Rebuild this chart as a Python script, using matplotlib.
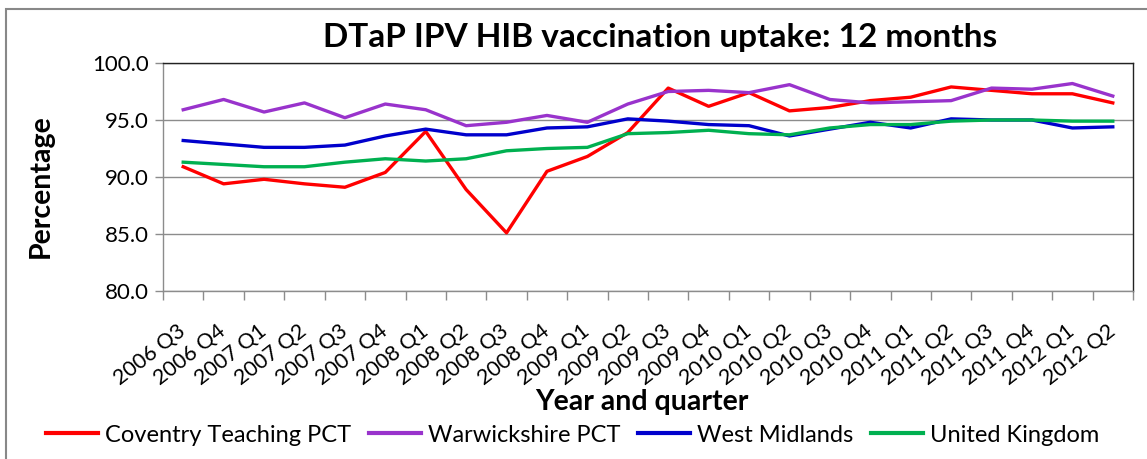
import matplotlib
matplotlib.use("Agg")
import matplotlib.pyplot as plt
import numpy as np
from matplotlib.patches import Rectangle

categories = ["2006 Q3", "2006 Q4", "2007 Q1", "2007 Q2", "2007 Q3", "2007 Q4",
              "2008 Q1", "2008 Q2", "2008 Q3", "2008 Q4", "2009 Q1", "2009 Q2",
              "2009 Q3", "2009 Q4", "2010 Q1", "2010 Q2", "2010 Q3", "2010 Q4",
              "2011 Q1", "2011 Q2", "2011 Q3", "2011 Q4", "2012 Q1", "2012 Q2"]

coventry = [90.9, 89.4, 89.8, 89.4, 89.1, 90.4, 94.0, 88.9, 85.1, 90.5, 91.8, 93.9,
            97.8, 96.2, 97.4, 95.8, 96.1, 96.7, 97.0, 97.9, 97.6, 97.3, 97.3, 96.5]
warwickshire = [95.9, 96.8, 95.7, 96.5, 95.2, 96.4, 95.9, 94.5, 94.8, 95.4, 94.8, 96.4,
                97.5, 97.6, 97.4, 98.1, 96.8, 96.5, 96.6, 96.7, 97.8, 97.7, 98.2, 97.1]
west_midlands = [93.2, 92.9, 92.6, 92.6, 92.8, 93.6, 94.2, 93.7, 93.7, 94.3, 94.4, 95.1,
                 94.9, 94.6, 94.5, 93.6, 94.2, 94.8, 94.3, 95.1, 95.0, 95.0, 94.3, 94.4]
united_kingdom = [91.3, 91.1, 90.9, 90.9, 91.3, 91.6, 91.4, 91.6, 92.3, 92.5, 92.6, 93.8,
                  93.9, 94.1, 93.8, 93.7, 94.3, 94.6, 94.6, 94.9, 95.0, 95.0, 94.9, 94.9]

series_names = ["Coventry Teaching PCT", "Warwickshire PCT", "West Midlands", "United Kingdom"]
series_values = [coventry, warwickshire, west_midlands, united_kingdom]
series_colors = ["#FF0000", "#9933CC", "#0000CC", "#00B050"]

FONT = "Lato"
plt.rcParams['font.family'] = [FONT, 'DejaVu Sans']

W, H = 1147, 459
fig = plt.figure(figsize=(W / 100, H / 100), dpi=100)

# outer chart border
fig.patches.append(Rectangle((6 / W, 0 - 0.01), 1.2, 1 - 9 / H + 0.01, transform=fig.transFigure,
                             fill=False, edgecolor="#888888", linewidth=1.5))

ax = fig.add_axes([163 / W, 1 - 291 / H, (1133 - 163) / W, (291 - 63) / H])

x = np.arange(len(categories))
for name, vals, col in zip(series_names, series_values, series_colors):
    ax.plot(x, vals, color=col, linewidth=2.4, label=name)

ax.set_xlim(-0.5, len(categories) - 0.5)
ax.set_ylim(80, 100)
ax.set_yticks([80, 85, 90, 95, 100])
ax.set_yticklabels([f"{v:.1f}" for v in [80, 85, 90, 95, 100]], fontsize=16)
ax.yaxis.grid(True, color="#8C8C8C", linewidth=1.0)
ax.set_axisbelow(True)

ax.set_xticks(x)
ax.set_xticklabels(categories, rotation=38, ha='right', va='center',
                   rotation_mode='anchor', fontsize=15.5)
ax.set_xticks(np.arange(len(categories) + 1) - 0.5, minor=True)
ax.tick_params(axis='x', which='major', length=0, pad=27)
ax.tick_params(axis='x', which='minor', length=6.5, width=1, color="#8C8C8C")
ax.tick_params(axis='y', which='major', length=6, width=1, color="#8C8C8C", pad=4)

for s in ['left', 'bottom']:
    ax.spines[s].set_color("#8C8C8C")
    ax.spines[s].set_linewidth(1.0)
for s in ['top', 'right']:
    ax.spines[s].set_color("#222222")
    ax.spines[s].set_linewidth(1.0)

fig.text(660 / W, 1 - 37 / H, "DTaP IPV HIB vaccination uptake: 12 months",
         ha='center', va='center', fontsize=24, fontweight='bold')
fig.text(41 / W, 1 - 186 / H, "Percentage", rotation=90, ha='center', va='center',
         fontsize=20.5, fontweight='bold')
fig.text(642 / W, 1 - 402 / H, "Year and quarter", ha='center', va='center',
         fontsize=20.5, fontweight='bold')

fig.legend(loc='center', bbox_to_anchor=(573 / W, 1 - 435 / H), ncol=4, frameon=False,
           fontsize=17, handlelength=2.2, handletextpad=0.3, columnspacing=0.75,
           borderaxespad=0, borderpad=0)
for line in fig.legends[0].get_lines():
    line.set_linewidth(3)

fig.savefig("out.png", dpi=100)
